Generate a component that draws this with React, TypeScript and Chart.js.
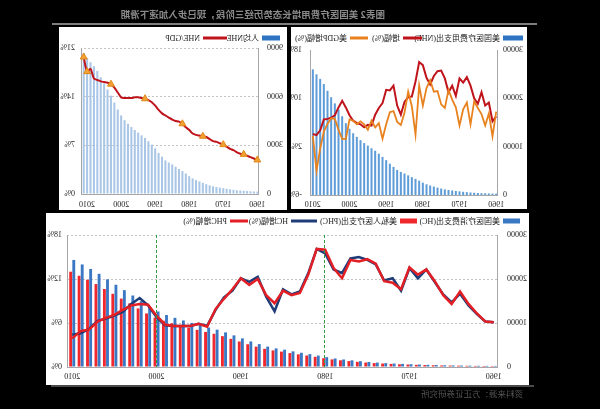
import React, { useEffect, useRef } from "react";
import { Chart, registerables } from "chart.js";

Chart.register(...registerables);

// ---------------- data ----------------
const YEARS_1960_2010 = [
  1960, 1961, 1962, 1963, 1964, 1965, 1966, 1967, 1968, 1969,
  1970, 1971, 1972, 1973, 1974, 1975, 1976, 1977, 1978, 1979,
  1980, 1981, 1982, 1983, 1984, 1985, 1986, 1987, 1988, 1989,
  1990, 1991, 1992, 1993, 1994, 1995, 1996, 1997, 1998, 1999,
  2000, 2001, 2002, 2003, 2004, 2005, 2006, 2007, 2008, 2009, 2010,
];
const YEARS_1960_2011 = [
  1960, 1961, 1962, 1963, 1964, 1965, 1966, 1967, 1968, 1969,
  1970, 1971, 1972, 1973, 1974, 1975, 1976, 1977, 1978, 1979,
  1980, 1981, 1982, 1983, 1984, 1985, 1986, 1987, 1988, 1989,
  1990, 1991, 1992, 1993, 1994, 1995, 1996, 1997, 1998, 1999,
  2000, 2001, 2002, 2003, 2004, 2005, 2006, 2007, 2008, 2009, 2010, 2011,
];
const DECADE_LABELS = [1960, 1970, 1980, 1990, 2000, 2010];

// Panel 1: US national health expenditure (NHE, 亿美元) and growth rates (%)
const NHE = [
  274, 291, 318, 346, 384, 419, 461, 517, 587, 661,
  749, 827, 927, 1029, 1166, 1336, 1530, 1739, 1953, 2215,
  2558, 2967, 3347, 3690, 4065, 4446, 4769, 5191, 5818, 6475,
  7214, 7881, 8541, 9165, 9672, 10216, 10744, 11355, 12020, 12783,
  13697, 14860, 16286, 17676, 18955, 20237, 21564, 22956, 24026, 24964, 25990,
];
const NHE_GROWTH = [
  7.0, 6.2, 9.3, 8.8, 11.0, 9.1, 10.0, 12.1, 13.5, 12.6,
  13.3, 10.4, 12.1, 11.0, 13.3, 14.6, 14.5, 13.7, 12.3, 13.4,
  15.5, 16.0, 12.8, 10.3, 10.2, 9.4, 7.3, 8.8, 12.1, 11.3,
  11.4, 9.2, 8.4, 7.3, 5.5, 5.6, 5.2, 5.7, 5.9, 6.3,
  7.2, 8.5, 9.6, 8.5, 7.2, 6.8, 6.6, 6.5, 4.7, 3.9, 4.1,
];
const GDP_GROWTH = [
  7.8, 3.7, 7.5, 5.5, 7.4, 8.4, 9.5, 5.7, 9.3, 8.2,
  5.5, 8.5, 9.8, 11.4, 8.4, 9.0, 11.2, 11.1, 13.0, 11.7,
  8.8, 12.1, 4.0, 8.7, 11.1, 7.6, 5.6, 6.1, 7.9, 7.7,
  5.7, 3.3, 5.9, 5.2, 6.3, 4.8, 5.7, 6.2, 5.7, 6.3,
  6.5, 3.3, 3.3, 4.8, 6.6, 6.7, 5.8, 4.5, 1.7, -2.0, 3.8,
];

// Panel 2: per-capita NHE (美元) and NHE/GDP (%)
const NHE_PER_CAPITA = [
  147, 156, 168, 181, 198, 212, 231, 257, 288, 319,
  356, 389, 432, 476, 534, 605, 687, 773, 859, 963,
  1102, 1265, 1414, 1543, 1684, 1825, 1940, 2070, 2300, 2534,
  2814, 3043, 3258, 3457, 3617, 3788, 3945, 4129, 4325, 4552,
  4845, 5207, 5640, 6064, 6440, 6814, 7196, 7590, 7874, 8126, 8380, 8680,
];
const NHE_TO_GDP = [
  4.9, 5.1, 5.3, 5.5, 5.7, 5.8, 6.0, 6.3, 6.5, 6.8,
  7.1, 7.3, 7.5, 7.6, 7.9, 8.2, 8.3, 8.4, 8.5, 8.7,
  9.2, 9.6, 10.1, 10.4, 10.5, 10.7, 11.0, 11.3, 11.6, 12.1,
  12.7, 13.2, 13.5, 13.7, 13.8, 13.9, 13.9, 13.8, 13.8, 13.8,
  13.9, 14.6, 15.3, 15.8, 16.0, 16.1, 16.2, 16.4, 16.6, 18.0, 17.6, 19.7,
];
const RATIO_MARKER_YEARS = [1960, 1964, 1970, 1976, 1982, 1993, 2003, 2010, 2011];

// Panel 3: health consumption (HC) / private health care (PHC) spending (亿美元) and growth (%)
const HC = [
  243, 258, 277, 300, 330, 359, 395, 441, 500, 560,
  636, 702, 787, 880, 1003, 1149, 1321, 1517, 1711, 1939,
  2240, 2600, 2933, 3234, 3554, 3931, 4230, 4636, 5206, 5810,
  6513, 7190, 7873, 8487, 8962, 9491, 10022, 10583, 11176, 11813,
  12616, 13676, 14961, 16248, 17467, 18690, 19924, 21179, 22280, 23305, 24330,
];
const PHC = [
  216, 230, 247, 267, 294, 320, 352, 393, 445, 498,
  566, 625, 700, 783, 893, 1023, 1176, 1350, 1523, 1726,
  1994, 2314, 2610, 2878, 3163, 3499, 3765, 4126, 4633, 5171,
  5797, 6399, 7007, 7553, 7976, 8447, 8920, 9419, 9947, 10514,
  11228, 12172, 13315, 14461, 15546, 16634, 17732, 18849, 19829, 20741, 21660,
];
const HC_GROWTH = [
  6.1, 6.2, 7.2, 8.4, 10.0, 8.8, 9.9, 11.6, 13.3, 12.1,
  13.5, 10.4, 12.1, 11.8, 14.0, 14.6, 15.0, 14.8, 12.8, 13.3,
  15.5, 16.1, 12.8, 10.3, 9.9, 10.6, 7.6, 9.6, 12.3, 11.6,
  12.1, 10.4, 9.5, 7.8, 5.6, 5.9, 5.6, 5.6, 5.6, 5.7,
  6.8, 8.4, 9.4, 8.6, 7.5, 7.0, 6.6, 6.3, 5.2, 4.6, 4.4,
];
const PHC_GROWTH = [
  6.1, 6.2, 7.3, 8.6, 10.3, 8.6, 9.8, 11.7, 13.3, 12.6,
  13.6, 10.6, 11.5, 11.7, 14.1, 14.7, 14.4, 14.6, 12.1, 13.5,
  16.0, 16.1, 12.6, 10.1, 9.8, 10.4, 8.7, 9.8, 12.0, 11.2,
  12.1, 10.6, 9.3, 7.9, 5.5, 5.9, 5.6, 5.6, 5.6, 5.8,
  7.0, 8.5, 8.6, 8.4, 7.8, 7.1, 6.7, 6.2, 5.1, 4.9, 3.9,
];
const DIVIDER_YEARS = [1980, 2000];

const TITLE = "图表2 美国医疗费用增长态势历经三阶段，现已步入加速下滑期";
const SOURCE = "资料来源：方正证券研究所";

const LABEL_NHE = "美国医疗费用支出(NHE)";
const LABEL_NHE_GROWTH = "增幅(%)";
const LABEL_GDP_GROWTH = "美GDP增幅(%)";
const LABEL_PER_CAPITA = "人均NHE";
const LABEL_RATIO = "NHE/GDP";
const LABEL_HC = "美国医疗消费支出(HC)";
const LABEL_PHC = "美私人医疗支出(PHC)";
const LABEL_HC_GROWTH = "HC增幅(%)";
const LABEL_PHC_GROWTH = "PHC增幅(%)";

// ---------------- styling helpers ----------------
const FONT_FAMILY = '"Liberation Serif", "Noto Sans CJK SC", serif';
const TICK_FONT = { family: FONT_FAMILY, size: 8 };
const LEGEND_FONT = `8px ${FONT_FAMILY}`;
const TICK_COLOR = "#222";
const AXIS_COLOR = "#a6a6a6";

function fixed(size: number, dim: "width" | "height") {
  return (s: any) => {
    s[dim] = size;
    s.paddingLeft = 0;
    s.paddingRight = 0;
    s.paddingTop = 0;
    s.paddingBottom = 0;
  };
}

type LegendSlot = { x: number; w: number; h: number; color: string; text: string };

function legendPlugin(y: number, items: LegendSlot[]) {
  return {
    id: "panelLegend",
    afterDraw(chart: any) {
      const ctx = chart.ctx as CanvasRenderingContext2D;
      ctx.save();
      ctx.font = LEGEND_FONT;
      ctx.textBaseline = "middle";
      ctx.textAlign = "left";
      for (const it of items) {
        ctx.fillStyle = it.color;
        ctx.fillRect(it.x, y - it.h / 2, it.w, it.h);
        ctx.fillStyle = "#1a1a1a";
        ctx.fillText(it.text, it.x + it.w + 3, y + 0.5);
      }
      ctx.restore();
    },
  };
}

function dividerPlugin(years: number[], allYears: number[]) {
  return {
    id: "dividers",
    afterDatasetsDraw(chart: any) {
      const ctx = chart.ctx as CanvasRenderingContext2D;
      const xs = chart.scales.x;
      const { top, bottom } = chart.chartArea;
      ctx.save();
      ctx.strokeStyle = "#2f9e44";
      ctx.lineWidth = 1;
      ctx.setLineDash([3, 2]);
      for (const yr of years) {
        const px = Math.round(xs.getPixelForValue(allYears.indexOf(yr))) + 0.5;
        ctx.beginPath();
        ctx.moveTo(px, top);
        ctx.lineTo(px, bottom);
        ctx.stroke();
      }
      ctx.restore();
    },
  };
}

function xScale(labels: number[], padding: number, height: number) {
  return {
    type: "category",
    offset: true,
    grid: { display: false, drawTicks: false },
    border: { display: true, color: AXIS_COLOR },
    ticks: {
      autoSkip: false,
      maxRotation: 0,
      minRotation: 0,
      padding,
      font: TICK_FONT,
      color: TICK_COLOR,
      callback: (_v: any, i: number) =>
        DECADE_LABELS.includes(labels[i]) ? String(labels[i]) : null,
    },
    afterFit: fixed(height, "height"),
  };
}

function yScale(opts: {
  position: "left" | "right";
  min: number;
  max: number;
  step: number;
  pct: boolean;
  padding: number;
  width: number;
  grid: boolean;
}) {
  return {
    type: "linear",
    position: opts.position,
    min: opts.min,
    max: opts.max,
    grid: { display: opts.grid, color: "#c4c4c4", drawTicks: false, lineWidth: 1 },
    border: { display: true, color: AXIS_COLOR, dash: [2, 2] },
    ticks: {
      stepSize: opts.step,
      padding: opts.padding,
      font: TICK_FONT,
      color: TICK_COLOR,
      callback: (v: any) => (opts.pct ? `${v}%` : String(v)),
    },
    afterFit: fixed(opts.width, "width"),
  };
}

const COMMON = {
  responsive: false,
  maintainAspectRatio: false,
  animation: false as const,
  devicePixelRatio: 1,
  events: [] as any[],
};

// ---------------- chart configs ----------------
function configNHE(): any {
  return {
    data: {
      labels: YEARS_1960_2010,
      datasets: [
        {
          type: "bar",
          label: LABEL_NHE,
          data: NHE,
          yAxisID: "y",
          backgroundColor: "#5d9cd8",
          categoryPercentage: 0.55,
          barPercentage: 1,
          order: 2,
        },
        {
          type: "line",
          label: LABEL_NHE_GROWTH,
          data: NHE_GROWTH,
          yAxisID: "y1",
          borderColor: "#c0141c",
          borderWidth: 2,
          pointRadius: 0,
          tension: 0,
          order: 1,
        },
        {
          type: "line",
          label: LABEL_GDP_GROWTH,
          data: GDP_GROWTH,
          yAxisID: "y1",
          borderColor: "#e8821e",
          borderWidth: 1.8,
          pointRadius: 0,
          tension: 0,
          order: 0,
        },
      ],
    },
    options: {
      ...COMMON,
      layout: { padding: { top: 23, left: 0, right: 0, bottom: 0 } },
      plugins: { legend: { display: false }, tooltip: { enabled: false } },
      scales: {
        x: xScale(YEARS_1960_2010, 5, 14),
        y: yScale({ position: "left", min: 0, max: 30000, step: 10000, pct: false, padding: 5, width: 29, grid: false }),
        y1: yScale({ position: "right", min: -6, max: 18, step: 8, pct: true, padding: 9, width: 20, grid: false }),
      },
    },
    plugins: [
      legendPlugin(11, [
        { x: 4, w: 20, h: 5, color: "#2f74c0", text: LABEL_NHE },
        { x: 105, w: 19, h: 3, color: "#c0141c", text: LABEL_NHE_GROWTH },
        { x: 159, w: 18, h: 3, color: "#e8821e", text: LABEL_GDP_GROWTH },
      ]),
    ],
  };
}

function configPerCapita(): any {
  return {
    data: {
      labels: YEARS_1960_2011,
      datasets: [
        {
          type: "bar",
          label: LABEL_PER_CAPITA,
          data: NHE_PER_CAPITA,
          yAxisID: "y",
          backgroundColor: "#a9c6e6",
          categoryPercentage: 0.6,
          barPercentage: 1,
          order: 2,
        },
        {
          type: "line",
          label: LABEL_RATIO,
          data: NHE_TO_GDP,
          yAxisID: "y1",
          borderColor: "#c0141c",
          borderWidth: 2,
          tension: 0.3,
          pointStyle: "triangle",
          pointRadius: YEARS_1960_2011.map((yr) => (RATIO_MARKER_YEARS.includes(yr) ? 4 : 0)),
          pointBackgroundColor: "#f2a233",
          pointBorderColor: "#e0861a",
          pointBorderWidth: 1,
          order: 1,
        },
      ],
    },
    options: {
      ...COMMON,
      layout: { padding: { top: 21, left: 0, right: 0, bottom: 0 } },
      plugins: { legend: { display: false }, tooltip: { enabled: false } },
      scales: {
        x: xScale(YEARS_1960_2011, 6, 16),
        y: yScale({ position: "left", min: 0, max: 9000, step: 3000, pct: false, padding: 8, width: 28, grid: true }),
        y1: yScale({ position: "right", min: 0, max: 21, step: 7, pct: true, padding: 7, width: 23, grid: false }),
      },
    },
    plugins: [
      legendPlugin(11, [
        { x: 7, w: 18, h: 5, color: "#2f74c0", text: LABEL_PER_CAPITA },
        { x: 60, w: 24, h: 3, color: "#c0141c", text: LABEL_RATIO },
      ]),
    ],
  };
}

function configHC(): any {
  return {
    data: {
      labels: YEARS_1960_2010,
      datasets: [
        {
          type: "bar",
          label: LABEL_HC,
          data: HC,
          yAxisID: "y",
          backgroundColor: "#3b78c4",
          categoryPercentage: 0.74,
          barPercentage: 0.92,
          order: 3,
        },
        {
          type: "bar",
          label: LABEL_PHC,
          data: PHC,
          yAxisID: "y",
          backgroundColor: "#f0282d",
          categoryPercentage: 0.74,
          barPercentage: 0.92,
          order: 3,
        },
        {
          type: "line",
          label: LABEL_HC_GROWTH,
          data: HC_GROWTH,
          yAxisID: "y1",
          borderColor: "#1f3c78",
          borderWidth: 2.5,
          pointRadius: 0,
          tension: 0,
          order: 2,
        },
        {
          type: "line",
          label: LABEL_PHC_GROWTH,
          data: PHC_GROWTH,
          yAxisID: "y1",
          borderColor: "#e31f26",
          borderWidth: 2.5,
          pointRadius: 0,
          tension: 0,
          order: 1,
        },
      ],
    },
    options: {
      ...COMMON,
      layout: { padding: { top: 22, left: 0, right: 0, bottom: 0 } },
      plugins: { legend: { display: false }, tooltip: { enabled: false } },
      scales: {
        x: xScale(YEARS_1960_2010, 5, 18),
        y: yScale({ position: "left", min: 0, max: 30000, step: 10000, pct: false, padding: 9, width: 31, grid: true }),
        y1: yScale({ position: "right", min: 0, max: 18, step: 6, pct: true, padding: 6, width: 22, grid: false }),
      },
    },
    plugins: [
      legendPlugin(8, [
        { x: 9, w: 17, h: 5, color: "#3b78c4", text: LABEL_HC },
        { x: 112, w: 17, h: 5, color: "#f0282d", text: LABEL_PHC },
        { x: 212, w: 26, h: 3, color: "#1f3c78", text: LABEL_HC_GROWTH },
        { x: 281, w: 18, h: 3, color: "#e31f26", text: LABEL_PHC_GROWTH },
      ]),
      dividerPlugin(DIVIDER_YEARS, YEARS_1960_2010),
    ],
  };
}

// ---------------- components ----------------
function Panel(props: { left: number; top: number; width: number; height: number; build: () => any }) {
  const ref = useRef<HTMLCanvasElement>(null);
  useEffect(() => {
    const chart = new Chart(ref.current as HTMLCanvasElement, props.build());
    return () => chart.destroy();
  }, []);
  return (
    <div
      style={{
        position: "absolute",
        left: props.left,
        top: props.top,
        width: props.width,
        height: props.height,
        background: "#fff",
      }}
    >
      <canvas
        ref={ref}
        width={props.width}
        height={props.height}
        style={{ display: "block", width: props.width, height: props.height }}
      />
    </div>
  );
}

export default function App() {
  return (
    <div
      style={{
        position: "fixed",
        left: 0,
        top: 0,
        width: 600,
        height: 409,
        background: "#000",
        overflow: "hidden",
        transform: "scaleX(-1)",
        transformOrigin: "50% 50%",
      }}
    >
      <div
        style={{
          position: "absolute",
          left: 215,
          top: 8,
          whiteSpace: "nowrap",
          font: 'bold 9.5px "Noto Sans CJK SC", sans-serif',
          lineHeight: "13px",
          color: "#8a8a8a",
        }}
      >
        {TITLE}
      </div>
      <div style={{ position: "absolute", left: 63, top: 23, width: 485, height: 2, background: "#7e7e7e" }} />
      <Panel left={73} top={27} width={236} height={182} build={configNHE} />
      <Panel left={313} top={27} width={228} height={183} build={configPerCapita} />
      <div style={{ position: "absolute", left: 66, top: 385, width: 483, height: 2, background: "#4a4a4a" }} />
      <Panel left={71} top={213} width={483} height={172} build={configHC} />
      <div
        style={{
          position: "absolute",
          left: 77,
          top: 387,
          whiteSpace: "nowrap",
          font: '8.5px "Noto Sans CJK SC", sans-serif',
          lineHeight: "13px",
          color: "#555",
        }}
      >
        {SOURCE}
      </div>
    </div>
  );
}
